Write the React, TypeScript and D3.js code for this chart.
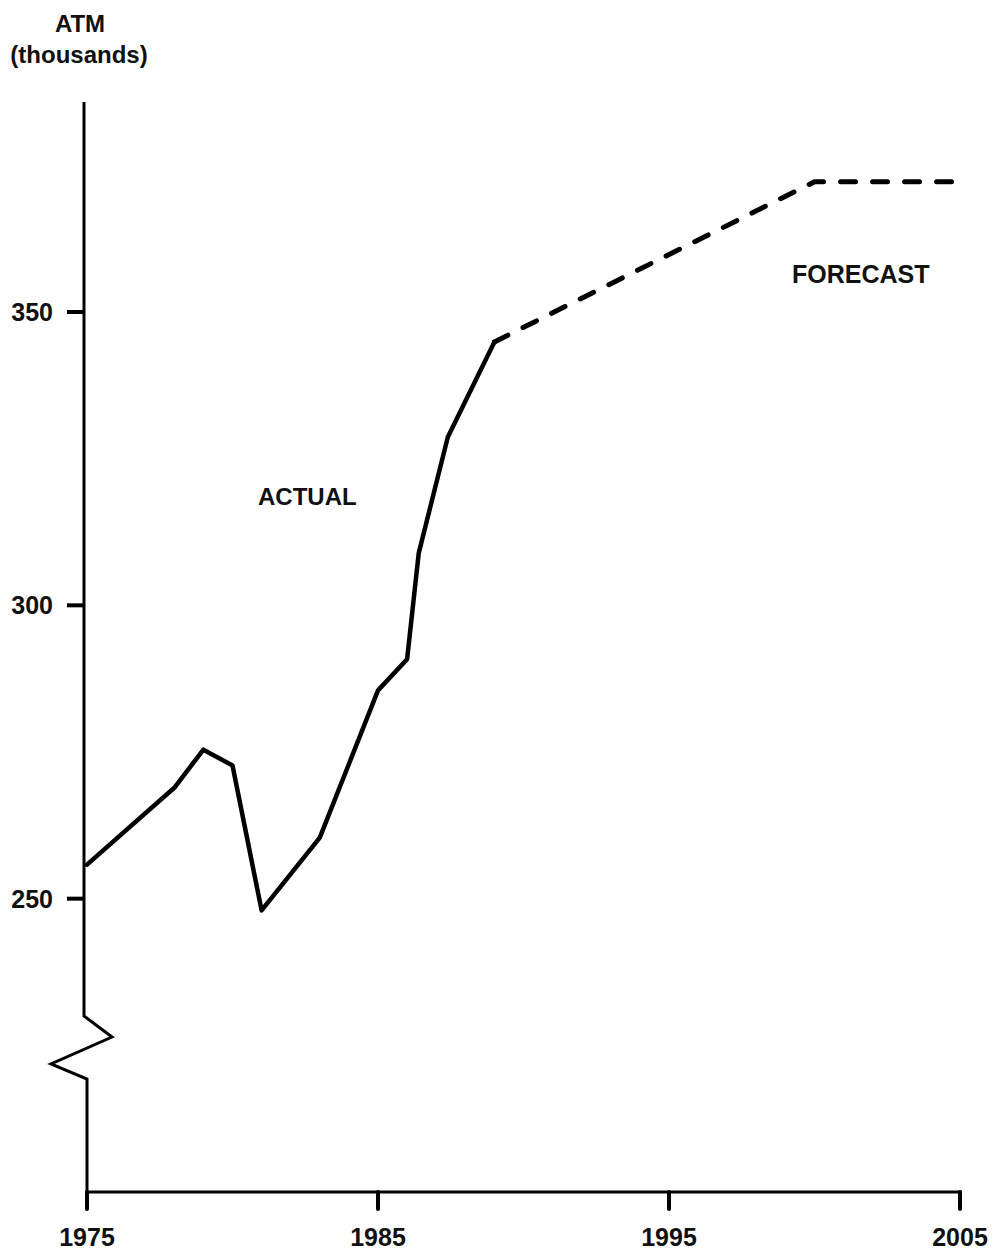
import * as d3 from 'd3';
import { type FC } from 'react';

// ATM installations, thousands
const actualYears = [1975, 1978, 1979, 1980, 1981, 1983, 1985, 1986, 1986.4, 1987.4, 1989];
const actualValues = [255.8, 268.9, 275.4, 272.7, 248, 260.4, 285.5, 290.8, 308.9, 328.7, 344.9];
const forecastYears = [1989, 2000, 2005];
const forecastValues = [344.9, 372.2, 372.2];
const xTicks = [1975, 1985, 1995, 2005];
const yTicks = [250, 300, 350];

const W = 1001;
const H = 1251;
const FONT = '"Liberation Sans", Arial, Helvetica, sans-serif';

const App: FC = () => {
  const x = d3.scaleLinear().domain([1975, 2005]).range([87, 960]);
  const y = d3.scaleLinear().domain([200, 350]).range([1192, 312]);

  const line = d3
    .line<[number, number]>()
    .x((d) => x(d[0]))
    .y((d) => y(d[1]));

  const actual = actualYears.map((yr, i) => [yr, actualValues[i]] as [number, number]);
  const forecast = forecastYears.map((yr, i) => [yr, forecastValues[i]] as [number, number]);

  const axisX = x(1975) - 3;
  const lowerX = x(1975);
  const top = y(385.8);
  const bottom = y(200);

  // broken y axis with zigzag
  const breakTop = y(230);
  const breakPath = [
    [axisX, top],
    [axisX, breakTop],
    [axisX + 28, breakTop + 21],
    [axisX - 33, breakTop + 48],
    [lowerX, breakTop + 63],
    [lowerX, bottom],
  ];

  return (
    <svg
      width={W}
      height={H}
      viewBox={`0 0 ${W} ${H}`}
      style={{ position: 'absolute', left: 0, top: 0, background: '#fff' }}
      fontFamily={FONT}
      fontWeight="bold"
    >
      {/* y axis title */}
      <text x={80} y={32} textAnchor="middle" fontSize={24} fill="#111">
        ATM
      </text>
      <text x={79} y={63} textAnchor="middle" fontSize={24} fill="#111">
        (thousands)
      </text>

      {/* y axis */}
      <path
        d={d3.line()(breakPath as [number, number][]) || ''}
        fill="none"
        stroke="#000"
        strokeWidth={3}
        strokeLinejoin="miter"
      />
      {yTicks.map((t) => (
        <g key={t}>
          <line x1={axisX - 17} x2={axisX} y1={y(t)} y2={y(t)} stroke="#000" strokeWidth={4} />
          <text x={axisX - 31} y={y(t) + 9} textAnchor="end" fontSize={25} fill="#111">
            {t}
          </text>
        </g>
      ))}

      {/* x axis */}
      <line x1={lowerX - 1} x2={x(2005) + 1.5} y1={bottom} y2={bottom} stroke="#000" strokeWidth={3} />
      {xTicks.map((t) => (
        <g key={t}>
          <line
            x1={x(t)}
            x2={x(t)}
            y1={bottom}
            y2={bottom + 17}
            stroke="#000"
            strokeWidth={4}
            strokeLinecap="round"
          />
          <text x={x(t)} y={1246} textAnchor="middle" fontSize={25} fill="#111">
            {t}
          </text>
        </g>
      ))}

      {/* series */}
      <path
        d={line(actual) || ''}
        fill="none"
        stroke="#000"
        strokeWidth={4.5}
        strokeLinejoin="round"
        strokeLinecap="round"
      />
      <path
        d={line(forecast) || ''}
        fill="none"
        stroke="#000"
        strokeWidth={5}
        strokeDasharray="15 17"
        strokeLinecap="round"
        strokeLinejoin="round"
      />

      <text x={258} y={505} fontSize={24} fill="#111">
        ACTUAL
      </text>
      <text x={792} y={283} fontSize={25} fill="#111">
        FORECAST
      </text>
    </svg>
  );
};

export default App;
